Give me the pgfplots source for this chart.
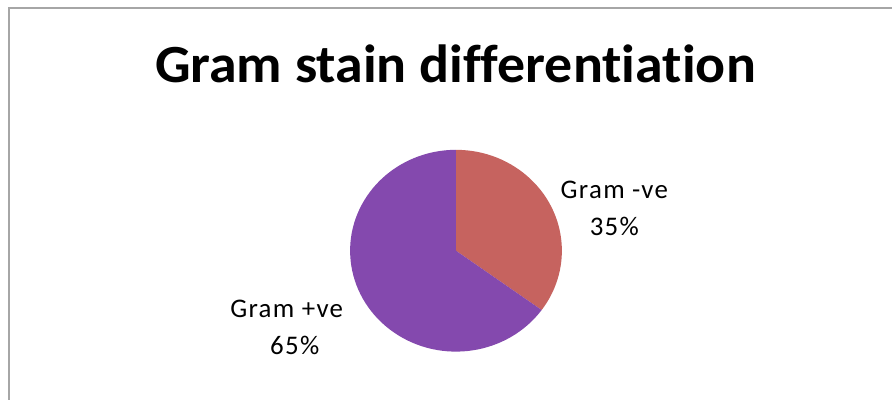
\documentclass[border=0pt]{standalone}
\usepackage{pgfplots}
\usepackage{pgfplotstable}
\pgfplotsset{compat=1.18}
\usepackage{fontspec}
\setmainfont{Carlito}[Ligatures=NoCommon]
\newfontfamily\labelfont{Carlito}[Ligatures=NoCommon, LetterSpace=5]
\definecolor{gneg}{HTML}{C6635F}
\definecolor{gpos}{HTML}{8449AE}
\definecolor{frame}{HTML}{A6A6A6}

\pgfplotstableread{
label share
neg 35
pos 65
}\gramdata

\begin{document}
\begin{tikzpicture}
\pgfplotstablegetelem{0}{share}\of\gramdata \let\negshare\pgfplotsretval
\pgfplotstablegetelem{1}{share}\of\gramdata \let\posshare\pgfplotsretval
\begin{axis}[
    width=893bp, height=400bp, scale only axis,
    xmin=0, xmax=893, ymin=0, ymax=400,
    hide axis, clip=false, anchor=origin, at={(0,0)}]
  % white page and the chart frame (left and top edges visible)
  \fill[white] (axis cs:0,0) rectangle (axis cs:893,400);
  \draw[frame, line width=2bp] (axis cs:9,0) -- (axis cs:9,392) -- (axis cs:893,392);
  % title
  \node[font=\fontsize{54}{60}\selectfont\bfseries, xscale=1.04] at (axis cs:456,336) {Gram stain differentiation};
  % pie, starting at 12 o'clock, clockwise
  \pgfmathsetmacro{\aneg}{90-3.6*\negshare}
  \fill[gneg] (axis cs:456.5,149) -- ++(90:106bp and 101bp) arc[start angle=90, end angle=\aneg, x radius=106bp, y radius=101bp] -- cycle;
  \fill[gpos] (axis cs:456.5,149) -- ++(\aneg:106bp and 101bp) arc[start angle=\aneg, end angle=-270, x radius=106bp, y radius=101bp] -- cycle;
  % data labels
  \node[font=\labelfont\fontsize{27}{37}\selectfont] at (axis cs:615,210) {Gram -ve};
  \node[font=\labelfont\fontsize{27}{37}\selectfont] at (axis cs:615,173) {\negshare\%};
  \node[font=\labelfont\fontsize{27}{37}\selectfont] at (axis cs:287,91) {Gram +ve};
  \node[font=\labelfont\fontsize{27}{37}\selectfont] at (axis cs:295,54) {\posshare\%};
\end{axis}
\end{tikzpicture}
\end{document}
